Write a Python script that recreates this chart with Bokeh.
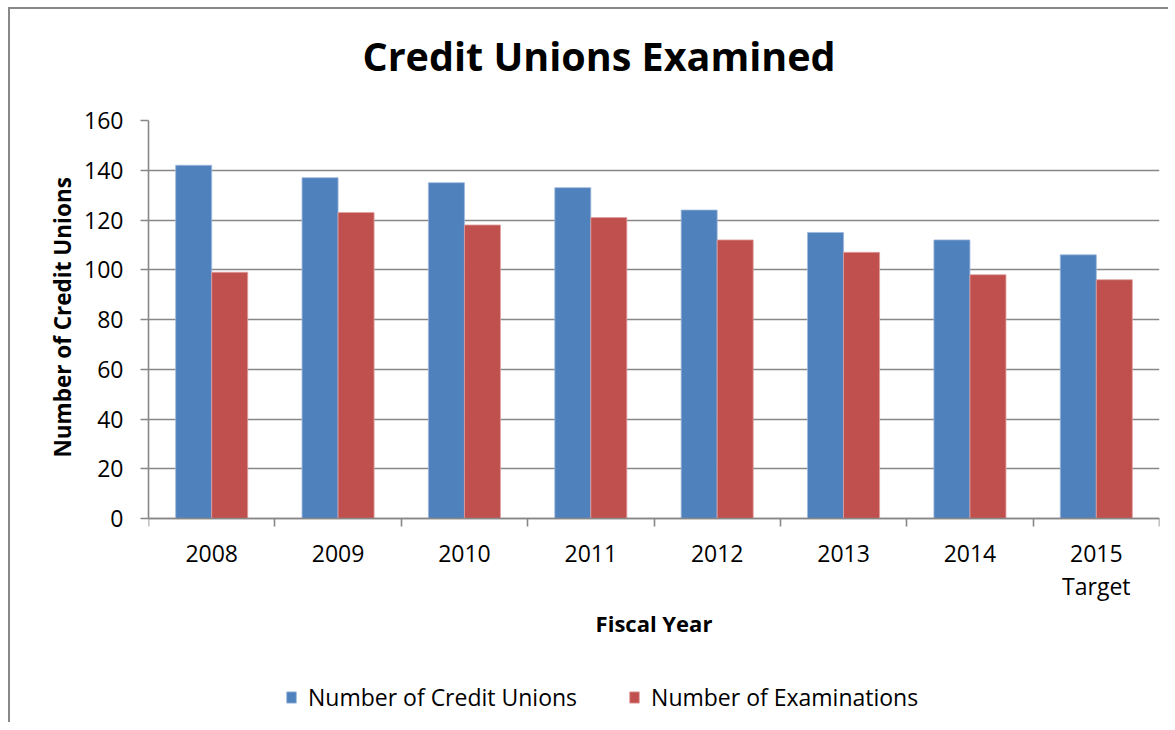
import numpy as np
from bokeh.plotting import figure
from bokeh.models import (ColumnDataSource, FixedTicker, Range1d, Legend, LegendItem, Title)
from bokeh.transform import dodge
from bokeh.embed import file_html
from bokeh.resources import INLINE

years = ["2008", "2009", "2010", "2011", "2012", "2013", "2014", "2015\nTarget"]
credit_unions = [142, 137, 135, 133, 124, 115, 112, 106]
examinations = [99, 123, 118, 121, 112, 107, 98, 96]
y_ticks = [0, 20, 40, 60, 80, 100, 120, 140, 160]

BLUE = "#4F81BD"
RED = "#C0504D"
GRID = "#878787"
FONT = "Open Sans"

Y_MAX = 160
# the frame runs down to the bottom of the chart so the legend can sit inside it;
# the value axis is bounded to 0..160 and the category axis is drawn at y = 0
Y_LOW = -82.8

pos = [i + 0.5 for i in range(len(years))]
src = ColumnDataSource(dict(x=pos, cu=credit_unions, ex=examinations))

p = figure(width=1160, height=715, output_backend="svg", toolbar_location=None,
           x_range=Range1d(0, len(years)), y_range=Range1d(Y_LOW, Y_MAX),
           min_border_left=138, min_border_right=11, min_border_top=111, min_border_bottom=0)
p.styles = {"border-left": "2px solid #888888", "border-top": "2px solid #888888",
            "border-right": "0px none", "border-bottom": "0px none",
            "margin-left": "8px", "margin-top": "7px", "padding-bottom": "6px"}

bw = 0.285
r1 = p.vbar(x=dodge("x", -bw / 2), top="cu", width=bw, source=src,
            fill_color=BLUE, line_color="#9db7dc", line_width=0.8)
r2 = p.vbar(x=dodge("x", bw / 2), top="ex", width=bw, source=src,
            fill_color=RED, line_color="#e0a09e", line_width=0.8)

# titles: a thin spacer next to the frame, then the chart title
p.title.text = ""
p.add_layout(Title(text=" ", text_font_size="1px", standoff=30), "above")
p.add_layout(Title(text="Credit Unions Examined", text_font=FONT, text_font_size="39.5px",
                   text_font_style="bold", text_color="black", align="left",
                   offset=214, standoff=10), "above")

p.outline_line_color = None
p.xgrid.grid_line_color = None
p.ygrid.grid_line_color = GRID
p.ygrid.grid_line_width = 1.6
p.ygrid.ticker = FixedTicker(ticks=y_ticks)

# y axis
ya = p.yaxis[0]
ya.ticker = FixedTicker(ticks=y_ticks)
ya.bounds = (0, Y_MAX)
ya.axis_line_color = GRID
ya.axis_line_width = 1.6
ya.major_tick_line_color = GRID
ya.major_tick_line_width = 1.6
ya.major_tick_in = 0
ya.major_tick_out = 8
ya.minor_tick_line_color = None
ya.major_label_text_font = FONT
ya.major_label_text_font_size = "23px"
ya.major_label_text_color = "black"
ya.major_label_standoff = 17

# y axis title, centred on the 0..160 span
p.add_layout(Title(text="Number of Credit Unions", text_font=FONT, text_font_size="22.5px",
                   text_font_style="bold", text_color="black", align="left",
                   offset=267, standoff=8), "left")

# x axis
xa = p.xaxis[0]
xa.fixed_location = 0
xa.ticker = FixedTicker(ticks=pos, minor_ticks=list(range(len(years) + 1)))
xa.major_label_overrides = {x: y for x, y in zip(pos, years)}
xa.axis_line_color = GRID
xa.axis_line_width = 1.6
xa.major_tick_line_color = None
xa.major_tick_in = 0
xa.major_tick_out = 0
xa.minor_tick_line_color = GRID
xa.minor_tick_line_width = 1.6
xa.minor_tick_in = 0
xa.minor_tick_out = 8
xa.major_label_text_font = FONT
xa.major_label_text_font_size = "23px"
xa.major_label_text_color = "black"
xa.major_label_text_line_height = 1.05
xa.major_label_standoff = 10
xa.axis_label = "Fiscal Year"
xa.axis_label_text_font = FONT
xa.axis_label_text_font_size = "22px"
xa.axis_label_text_font_style = "bold"
xa.axis_label_text_color = "black"
xa.axis_label_standoff = 3

legend = Legend(items=[LegendItem(label="Number of Credit Unions", renderers=[r1]),
                       LegendItem(label="Number of Examinations", renderers=[r2])],
                orientation="horizontal", location=(137, 11),
                label_text_font=FONT, label_text_font_size="23px", label_text_color="black",
                glyph_width=12, glyph_height=14, label_standoff=11, spacing=51,
                border_line_color=None, background_fill_alpha=0, margin=0, padding=5)
p.add_layout(legend, "center")

open("out.html", "w").write(file_html(p, INLINE))
